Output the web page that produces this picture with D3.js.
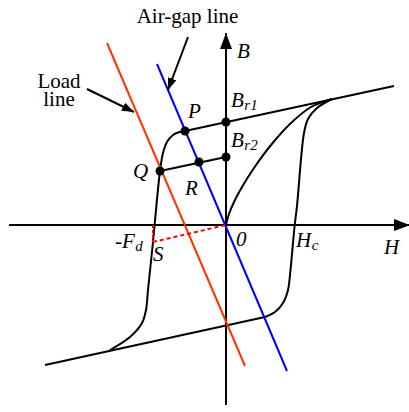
<!DOCTYPE html>
<html>
<head>
<meta charset="utf-8">
<script src="https://cdn.jsdelivr.net/npm/d3@7"></script>
</head>
<body style="margin:0">
<script>
// B-H plane, units (1 unit ~ 10px)
let hAxis = [-21.7, 18.4]
let bAxis = [-18, 19.2]

let upperLine = [[-4.1, 9.4], [16.8, 13.9]]
let lowerLine = [[-18.1, -14.0], [3.9, -9.2]]
let descending = [[-4.1, 9.4], [-4.8, 9.25], [-5.3, 9.0], [-5.9, 8.3], [-6.3, 7.2], [-6.6, 5.4],
    [-7.14, 0], [-7.3, -1.7], [-7.8, -6.5], [-8.0, -8.5], [-8.4, -9.8], [-9.6, -11.2], [-11.6, -12.5]]
let ascending = [[3.9, -9.2], [4.9, -8.7], [5.7, -7.8], [6.2, -6.5], [6.4, -5.0], [6.87, 0],
    [7.1, 1.9], [7.8, 9.2], [8.2, 10.6], [9.1, 11.7], [10.6, 12.6]]
let initial = [[0, 0], [0.3, 1.1], [0.8, 2.3], [1.6, 3.8], [2.8, 5.7], [4.5, 8.0], [6.5, 10.2],
    [8.5, 11.8], [10.6, 12.6]]
let recoil = [[-6.6, 5.4], [0, 6.8]]
let airGap = [[-6.9, 16.1], [6.1, -14.6]]
let loadLine = [[-11.9, 18.2], [1.9, -14.1]]
let fdLine = [[-7.3, -1.7], [0, 0]]
let fdDrop = [[-7.3, 0], [-7.3, -1.7]]

let points = [[0, 10.3], [0, 6.8], [-4.1, 9.4], [-2.7, 6.3], [-6.6, 5.4]]

// main letter, subscript, position of the letter
let labels = [
    { t: 'B', s: '', h: 1.1, b: 16.7 },
    { t: 'H', s: '', h: 15.8, b: -2.9 },
    { t: '0', s: '', h: 1.0, b: -2.1 },
    { t: 'H', s: 'c', h: 7.0, b: -2.2 },
    { t: '-F', s: 'd', h: -11.1, b: -2.3 },
    { t: 'S', s: '', h: -7.3, b: -3.6 },
    { t: 'P', s: '', h: -3.8, b: 10.7 },
    { t: 'R', s: '', h: -4.1, b: 3.0 },
    { t: 'Q', s: '', h: -9.3, b: 4.7 },
    { t: 'B', s: 'r1', h: 0.5, b: 11.8 },
    { t: 'B', s: 'r2', h: 0.5, b: 7.8 }
]
let noteText = [
    { t: 'Air-gap line', h: -3.85, b: 20.2 },
    { t: 'Load', h: -16.7, b: 13.7 },
    { t: 'line', h: -16.7, b: 11.9 }
]
let noteArrows = [
    { from: [-3.8, 18.8], to: [-5.8, 13.5] },
    { from: [-13.9, 13.6], to: [-9.2, 11.3] }
]

let width = 409, height = 412
let serif = 'Times New Roman'

var x = d3.scaleLinear().domain([-22.6, 18.3]).range([0, width])
var y = d3.scaleLinear().domain([22.5, -18.7]).range([0, height])

var svg = d3.select('body').append('svg')
    .attr('width', width)
    .attr('height', height)

var defs = svg.append('defs')
defs.append('marker')
    .attr('id', 'axisHead')
    .attr('markerUnits', 'userSpaceOnUse')
    .attr('viewBox', '0 0 16 12')
    .attr('refX', 16).attr('refY', 6)
    .attr('markerWidth', 16).attr('markerHeight', 12)
    .attr('orient', 'auto')
    .append('path').attr('d', 'M0,0L16,6L0,12Z').attr('fill', '#000')
defs.append('marker')
    .attr('id', 'noteHead')
    .attr('markerUnits', 'userSpaceOnUse')
    .attr('viewBox', '0 0 12 9')
    .attr('refX', 12).attr('refY', 4.5)
    .attr('markerWidth', 12).attr('markerHeight', 9)
    .attr('orient', 'auto')
    .append('path').attr('d', 'M0,0L12,4.5L0,9Z').attr('fill', '#000')

var line = d3.line()
    .x(d => x(d[0]))
    .y(d => y(d[1]))
var smooth = d3.line()
    .x(d => x(d[0]))
    .y(d => y(d[1]))
    .curve(d3.curveCatmullRom.alpha(0.5))

// axes
svg.append('line')
    .attr('x1', x(hAxis[0])).attr('y1', y(0))
    .attr('x2', x(hAxis[1])).attr('y2', y(0))
    .attr('stroke', '#000').attr('stroke-width', 2)
    .attr('marker-end', 'url(#axisHead)')
svg.append('line')
    .attr('x1', x(0)).attr('y1', y(bAxis[0]))
    .attr('x2', x(0)).attr('y2', y(bAxis[1]))
    .attr('stroke', '#000').attr('stroke-width', 2)
    .attr('marker-end', 'url(#axisHead)')

// loop
;[upperLine, lowerLine, recoil].forEach(seg => {
    svg.append('path').attr('d', line(seg))
        .attr('fill', 'none').attr('stroke', '#000').attr('stroke-width', 2)
})
;[descending, ascending, initial].forEach(seg => {
    svg.append('path').attr('d', smooth(seg))
        .attr('fill', 'none').attr('stroke', '#000').attr('stroke-width', 2)
})

svg.append('path').attr('d', line(airGap))
    .attr('fill', 'none').attr('stroke', '#0000ff').attr('stroke-width', 2)
svg.append('path').attr('d', line(loadLine))
    .attr('fill', 'none').attr('stroke', '#ff3300').attr('stroke-width', 2)
svg.append('path').attr('d', line(fdLine))
    .attr('fill', 'none').attr('stroke', '#ff0000').attr('stroke-width', 2)
    .attr('stroke-dasharray', '4,3')
svg.append('path').attr('d', line(fdDrop))
    .attr('fill', 'none').attr('stroke', '#ff0000').attr('stroke-width', 2)
    .attr('stroke-dasharray', '3,2')

svg.selectAll('circle.pt')
    .data(points)
    .enter()
    .append('circle')
    .attr('class', 'pt')
    .attr('cx', d => x(d[0]))
    .attr('cy', d => y(d[1]))
    .attr('r', 4.5)
    .attr('fill', '#000')

// italic symbols, subscripts as separate text
svg.selectAll('text.lab')
    .data(labels)
    .enter()
    .append('text')
    .attr('class', 'lab')
    .attr('x', d => x(d.h))
    .attr('y', d => y(d.b))
    .attr('font-family', serif)
    .style('font-family', serif)
    .style('font-size', '21px')
    .style('font-style', 'italic')
    .text(d => d.t)

svg.selectAll('text.lab').each(function (d) {
    if (!d.s) return
    let w = this.getComputedTextLength()
    svg.append('text')
        .attr('x', x(d.h) + w + 0.5)
        .attr('y', y(d.b) + 3)
        .attr('font-family', serif)
        .style('font-family', serif)
        .style('font-size', '15px')
        .style('font-style', 'italic')
        .text(d.s)
})

svg.selectAll('text.note')
    .data(noteText)
    .enter()
    .append('text')
    .attr('class', 'note')
    .attr('x', d => x(d.h))
    .attr('y', d => y(d.b))
    .attr('text-anchor', 'middle')
    .attr('font-family', serif)
    .style('font-family', serif)
    .style('font-size', '21px')
    .text(d => d.t)

noteArrows.forEach(n => {
    svg.append('line')
        .attr('x1', x(n.from[0])).attr('y1', y(n.from[1]))
        .attr('x2', x(n.to[0])).attr('y2', y(n.to[1]))
        .attr('stroke', '#000').attr('stroke-width', 2)
        .attr('marker-end', 'url(#noteHead)')
})
</script>
</body>
</html>
